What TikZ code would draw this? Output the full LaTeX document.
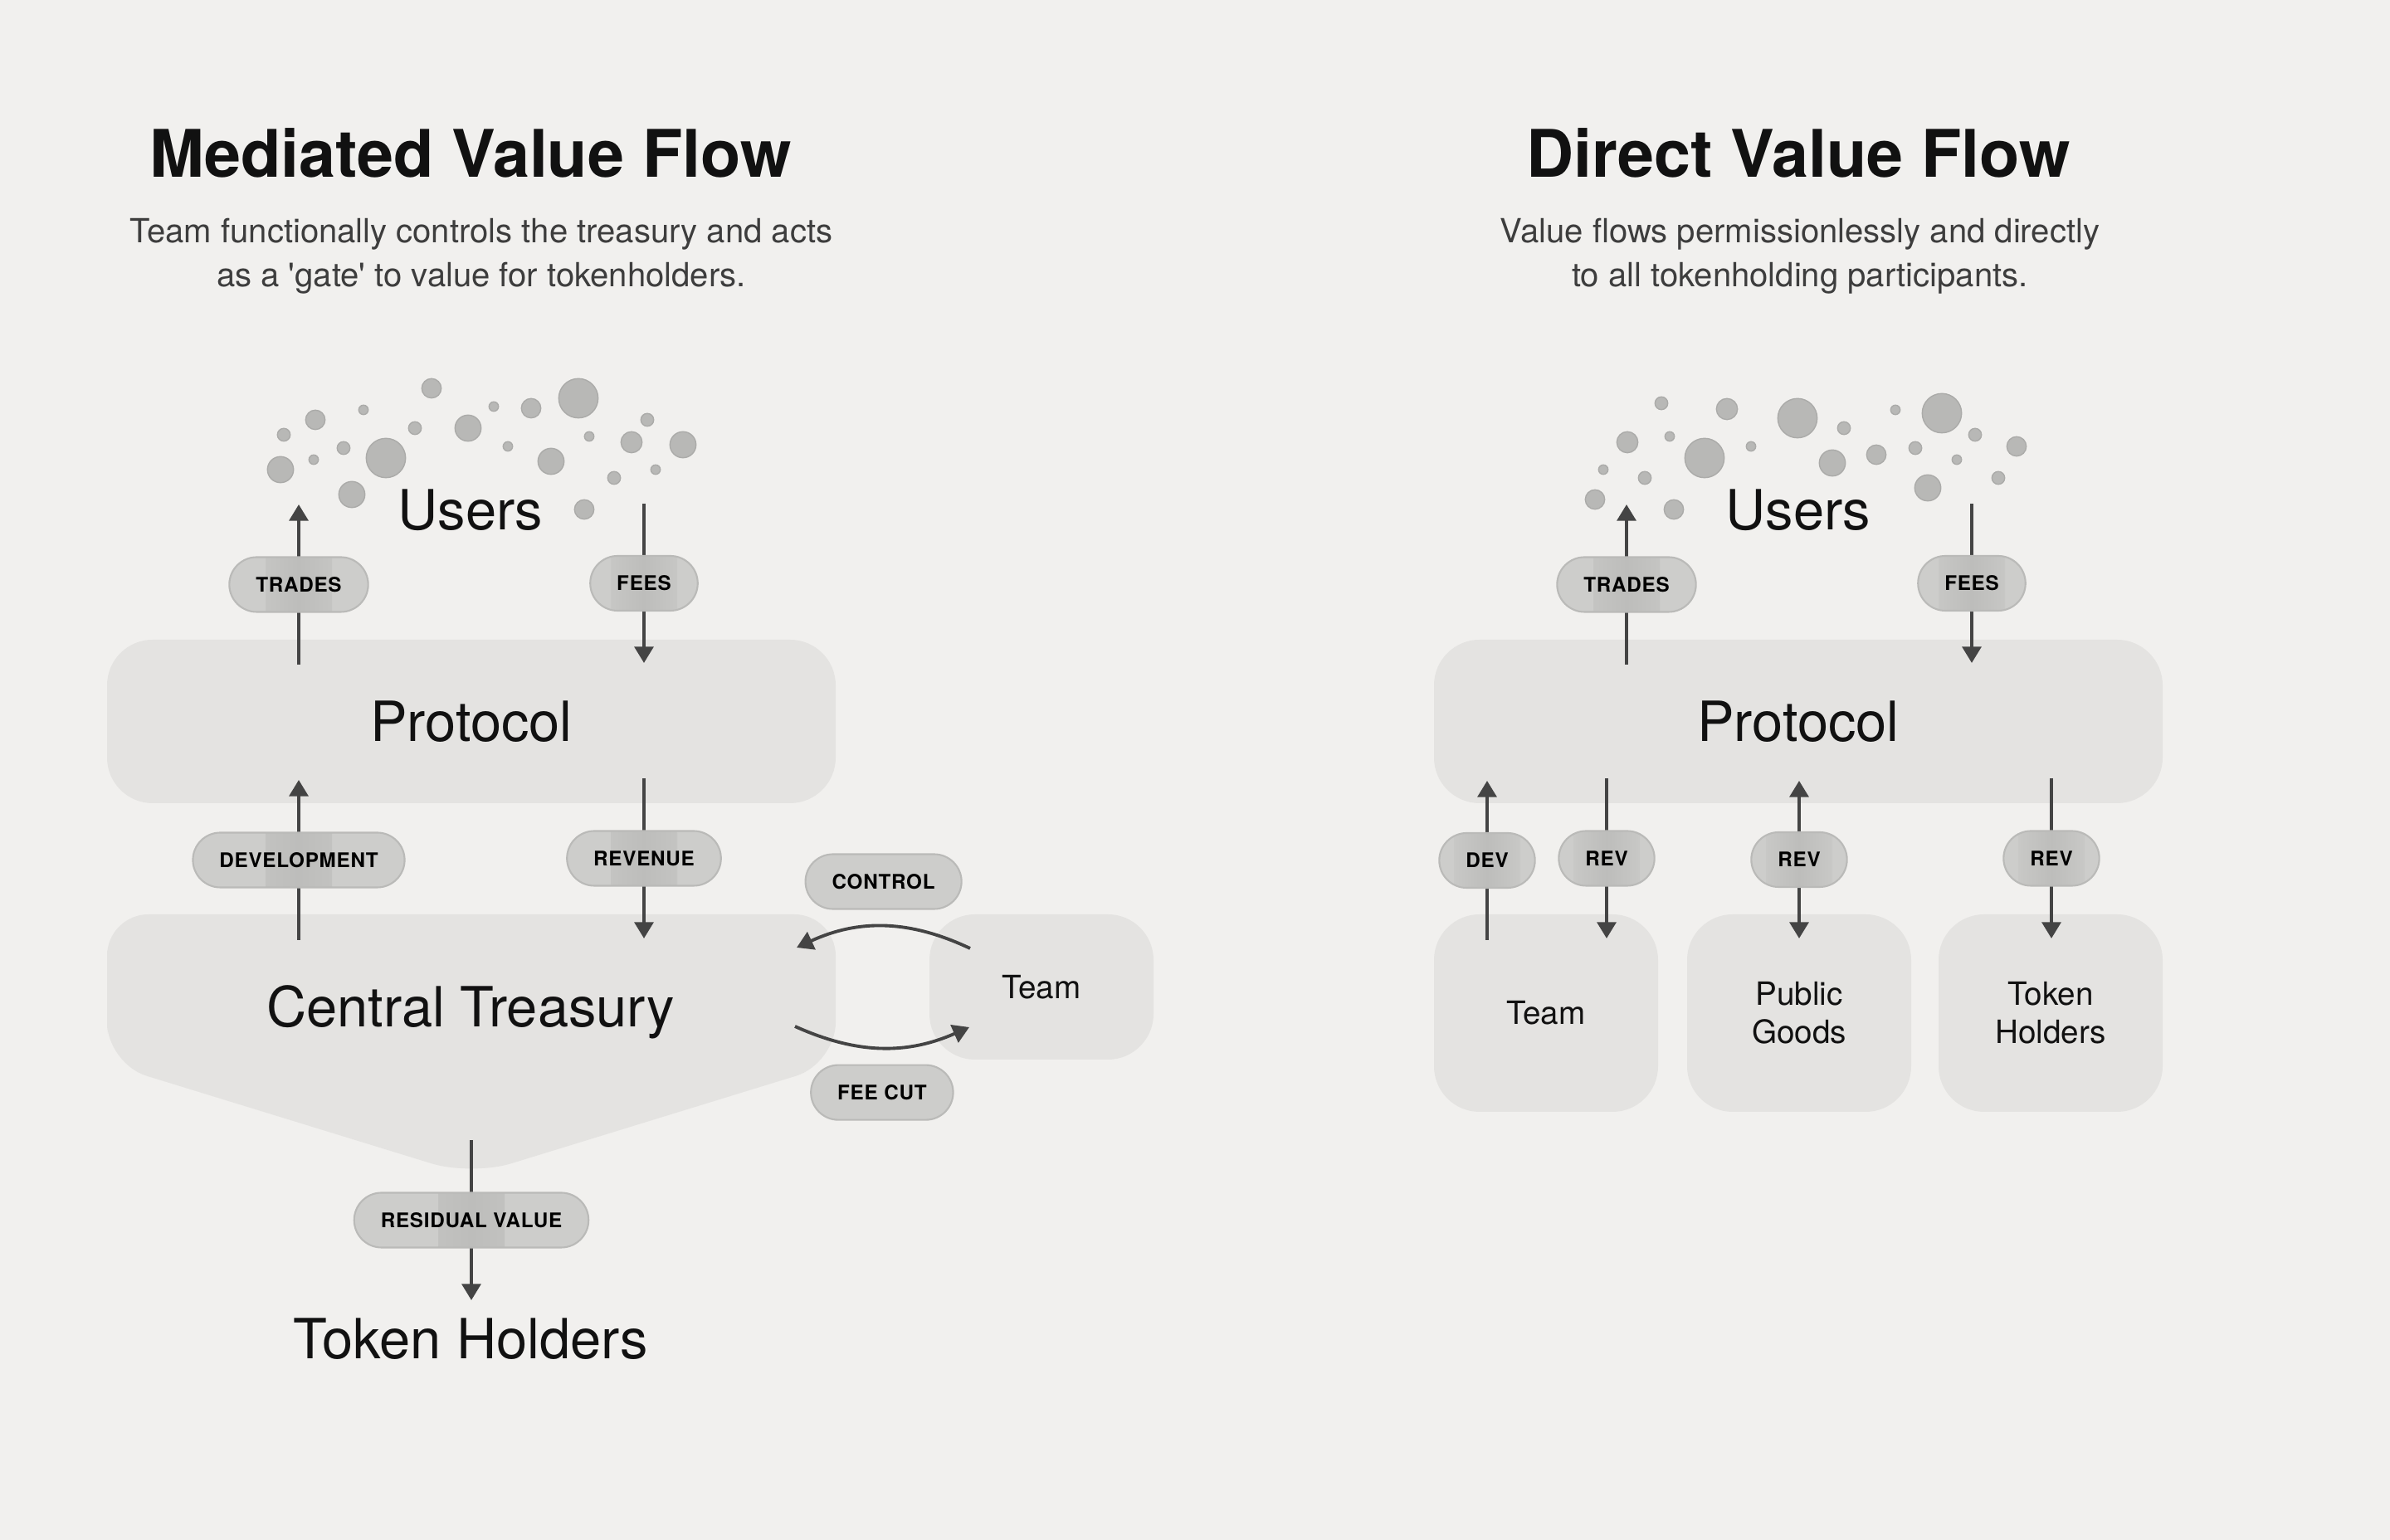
\documentclass[tikz,border=0pt]{standalone}
\usepackage{fontspec}
\setmainfont{TeX Gyre Heros}
\newfontfamily\tagfam[LetterSpace=3]{TeX Gyre Heros}
\usetikzlibrary{arrows.meta,positioning,calc}
\definecolor{paper}{HTML}{F1F0EE}
\definecolor{boxfill}{HTML}{E4E3E1}
\definecolor{tagfill}{HTML}{CDCDCB}
\definecolor{tagline}{HTML}{BABAB8}
\definecolor{tagband}{HTML}{BDBDBB}
\definecolor{dotfill}{HTML}{B8B8B6}
\definecolor{dotline}{HTML}{ABABA9}
\definecolor{ink}{HTML}{111111}
\definecolor{subink}{HTML}{3D3D3D}
\definecolor{arrowc}{HTML}{444444}

\begin{document}
\begin{tikzpicture}[
  big/.style={font=\fontsize{19}{22}\selectfont,text=ink},
  small/.style={font=\fontsize{11}{13}\selectfont,text=ink,align=center},
  title/.style={font=\bfseries\fontsize{22.5}{27}\selectfont,text=ink},
  sub/.style={font=\fontsize{11.4}{15}\selectfont,text=subink,align=center},
  area/.style={fill=boxfill,rounded corners=0.55cm,inner sep=0pt},
  tag/.style={draw=tagline,line width=0.6pt,fill=tagfill,rounded corners=0.33cm,minimum height=0.66cm,
    inner xsep=0.32cm,inner ysep=0pt,text=black,font=\tagfam\bfseries\fontsize{6.9}{8}\selectfont},
  bandtag/.style={tag,path picture={\shade[sharp corners,left color=tagfill,right color=tagfill,middle color=tagband]
    ([xshift=-0.4cm]path picture bounding box.south) rectangle ([xshift=0.4cm]path picture bounding box.north);}},
  arr/.style={-{Triangle[length=5.6pt,width=6.5pt]},line width=1.1pt,draw=arrowc},
  dbl/.style={{Triangle[length=5.6pt,width=6.5pt]}-{Triangle[length=5.6pt,width=6.5pt]},line width=1.1pt,draw=arrowc},
  dot/.style={fill=dotfill,draw=dotline,line width=0.4pt}]
\fill[paper] (0,0) rectangle (28.8,18.56);

% mediated
\node[title] (titleL) at (5.67,16.72) {Mediated Value Flow};
\node[sub] (subL) at (5.80,15.47) {Team functionally controls the treasury and acts\\as a \textquotesingle gate\textquotesingle{} to value for tokenholders.};
\foreach \x/\y/\r in {5.20/13.88/0.117,3.80/13.50/0.117,3.42/13.32/0.077,4.38/13.62/0.057,3.38/12.90/0.157,
  3.78/13.02/0.057,4.14/13.16/0.077,4.65/13.04/0.237,4.24/12.60/0.157,5.00/13.40/0.077,5.64/13.40/0.157,
  5.95/13.66/0.057,6.40/13.64/0.117,6.97/13.76/0.237,6.12/13.18/0.057,6.64/13.00/0.157,7.10/13.30/0.057,
  7.80/13.50/0.077,7.61/13.23/0.127,8.23/13.20/0.157,7.40/12.80/0.077,7.90/12.90/0.057,7.04/12.42/0.117}
  \filldraw[dot] (\x,\y) circle (\r);
\node[big] (usersL) at (5.67,12.41) {Users};
\node[area,big,minimum width=8.78cm,minimum height=1.97cm] (protoL) at (5.68,9.865) {Protocol};
\fill[boxfill,rounded corners=0.5cm] (1.29,6.6) -- (1.29,7.54) -- (10.07,7.54) -- (10.07,5.74) -- (5.68,4.39) -- (1.29,5.74) -- cycle;
\node[big] (treasury) at (5.67,6.36) {Central Treasury};
\node[area,small,minimum width=2.70cm,minimum height=1.75cm] (teamL) at (12.55,6.665) {Team};
\node[big] (holdersL) at (5.67,2.42) {Token Holders};

\coordinate (tradesA) at (3.60,10.55);
\coordinate (tradesB) at (3.60,12.48);
\coordinate (feesA) at (7.76,12.49);
\coordinate (feesB) at (7.76,10.57);
\coordinate (devA) at (3.60,7.23);
\coordinate (devB) at (3.60,9.16);
\coordinate (revA) at (7.76,9.18);
\coordinate (revB) at (7.76,7.25);
\coordinate (ctrlA) at (11.69,7.13);
\coordinate (ctrlB) at (9.60,7.14);
\coordinate (cutA) at (9.58,6.19);
\coordinate (cutB) at (11.68,6.18);
\coordinate (restA) at (5.68,4.82);
\coordinate (restB) at (5.68,2.89);
\draw[arr] (tradesA) -- node[bandtag] (tradesTagL) {TRADES} (tradesB);
\draw[arr] (feesA) -- node[bandtag] (feesTagL) {FEES} (feesB);
\draw[arr] (devA) -- node[bandtag] (devTagL) {DEVELOPMENT} (devB);
\draw[arr] (revA) -- node[bandtag] (revTagL) {REVENUE} (revB);
\draw[arr] (ctrlA) to[bend right=25] node[tag,above=0.2cm] (controlTag) {CONTROL} (ctrlB);
\draw[arr] (cutA) to[bend right=24] node[tag,below=0.2cm] (feecutTag) {FEE CUT} (cutB);
\draw[arr] (restA) -- node[bandtag] (residualTag) {RESIDUAL VALUE} (restB);

% direct
\node[title] (titleR) at (21.67,16.72) {Direct Value Flow};
\node[sub] (subR) at (21.69,15.47) {Value flows permissionlessly and directly\\to all tokenholding participants.};
\foreach \x/\y/\r in {20.02/13.70/0.077,20.81/13.63/0.127,21.66/13.52/0.237,22.84/13.62/0.057,23.40/13.58/0.237,
  19.61/13.23/0.127,20.12/13.30/0.057,20.54/13.04/0.237,21.10/13.18/0.057,22.22/13.40/0.077,22.08/12.98/0.157,
  22.61/13.08/0.117,23.08/13.16/0.077,23.80/13.32/0.077,24.30/13.18/0.117,23.58/13.02/0.057,24.08/12.80/0.077,
  23.23/12.68/0.157,19.32/12.90/0.057,19.82/12.80/0.077,19.22/12.54/0.117,20.17/12.42/0.117}
  \filldraw[dot] (\x,\y) circle (\r);
\node[big] (usersR) at (21.67,12.41) {Users};
\node[area,big,minimum width=8.78cm,minimum height=1.97cm] (protoR) at (21.67,9.865) {Protocol};
\node[area,small,minimum width=2.70cm,minimum height=2.38cm] (teamR) at (18.63,6.35) {Team};
\node[area,small,minimum width=2.70cm,minimum height=2.38cm] (goodsR) at (21.68,6.35) {Public\\Goods};
\node[area,small,minimum width=2.70cm,minimum height=2.38cm] (holdersR) at (24.71,6.35) {Token\\Holders};

\coordinate (tradesC) at (19.60,10.55);
\coordinate (tradesD) at (19.60,12.48);
\coordinate (feesC) at (23.76,12.49);
\coordinate (feesD) at (23.76,10.57);
\coordinate (devC) at (17.92,7.23);
\coordinate (devD) at (17.92,9.15);
\coordinate (revC) at (19.36,9.18);
\coordinate (revD) at (19.36,7.25);
\coordinate (goodsC) at (21.68,7.25);
\coordinate (goodsD) at (21.68,9.15);
\coordinate (holdC) at (24.72,9.18);
\coordinate (holdD) at (24.72,7.25);
\draw[arr] (tradesC) -- node[bandtag] (tradesTagR) {TRADES} (tradesD);
\draw[arr] (feesC) -- node[bandtag] (feesTagR) {FEES} (feesD);
\draw[arr] (devC) -- node[bandtag] (devTagR) {DEV} (devD);
\draw[arr] (revC) -- node[bandtag] (revTagR) {REV} (revD);
\draw[dbl] (goodsC) -- node[bandtag] (goodsTag) {REV} (goodsD);
\draw[arr] (holdC) -- node[bandtag] (holdTag) {REV} (holdD);
\end{tikzpicture}
\end{document}
